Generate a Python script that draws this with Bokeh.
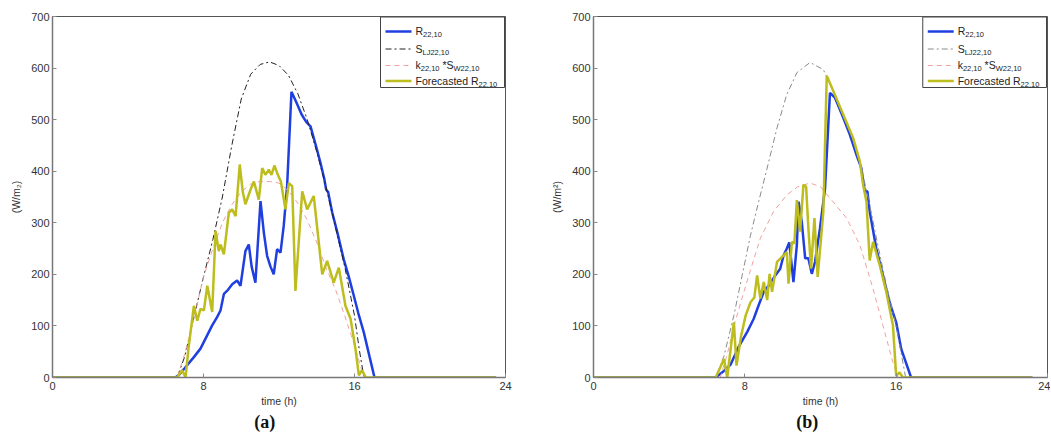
from bokeh.plotting import figure
from bokeh.models import Range1d, FixedTicker, Title
from bokeh.layouts import row
from bokeh.core.properties import value
from bokeh.embed import file_html
from bokeh.resources import INLINE

# ---------------- data ----------------
X_TICKS = [0, 8, 16, 24]
Y_TICKS = [0, 100, 200, 300, 400, 500, 600, 700]

# panel (a)
A_T_SLJ = [0, 6.6, 7.0, 7.5, 8.0, 8.5, 9.0, 9.5, 10.0, 10.5, 11.0, 11.5, 12.0, 12.5, 13.0, 13.5, 14.0, 14.5, 15.0, 15.5, 16.0, 16.25, 16.5, 23.5]
A_SLJ = [0, 0, 40, 118, 195, 268, 350, 450, 540, 588, 607, 612, 605, 586, 550, 500, 438, 368, 290, 212, 120, 55, 0, 0]

A_T_SW = [0, 6.6, 7.0, 7.5, 8.0, 8.5, 9.0, 9.5, 10.0, 10.5, 11.0, 11.5, 12.0, 12.5, 13.0, 13.5, 14.0, 14.5, 15.0, 15.5, 16.0, 16.5, 23.5]
A_SW = [0, 0, 45, 115, 195, 250, 300, 335, 360, 375, 380, 380, 377, 362, 338, 305, 262, 212, 170, 118, 62, 0, 0]

A_T_R = [0, 6.5, 6.7, 7.0, 7.5, 7.84, 8.1, 8.46, 8.72, 8.9, 9.08, 9.3, 9.52, 9.78, 9.96, 10.22, 10.4, 10.55, 10.75, 11.02,
         11.2, 11.37, 11.55, 11.72, 11.9, 12.08, 12.25, 12.43, 12.66, 12.9, 13.2, 13.45, 13.67, 13.95, 14.2, 14.4, 14.5, 14.6,
         14.82, 15.1, 15.43, 15.7, 15.96, 16.2, 16.49, 16.8, 17.06, 23.5]
A_R = [0, 0, 5, 18, 40, 56, 75, 101, 117, 130, 162, 170, 181, 188, 178, 245, 258, 215, 184, 342,
       280, 236, 215, 200, 249, 242, 294, 371, 554, 535, 510, 495, 487, 450, 416, 385, 364, 360,
       320, 280, 229, 195, 159, 125, 88, 40, 0, 0]

A_T_F = [0, 6.6, 6.87, 7.05, 7.2, 7.49, 7.67, 7.84, 8.02, 8.2, 8.46, 8.64, 8.81, 8.9, 9.08, 9.34, 9.52, 9.7, 9.92, 10.08,
         10.22, 10.49, 10.67, 10.93, 11.11, 11.28, 11.46, 11.6, 11.76, 11.94, 12.1, 12.34, 12.52, 12.7, 12.87, 13.23, 13.49,
         13.84, 14.29, 14.55, 14.9, 15.17, 15.52, 15.79, 16.05, 16.23, 16.4, 16.6, 23.5]
A_F = [0, 0, 14, 0, 55, 139, 110, 133, 130, 178, 127, 284, 245, 258, 239, 319, 326, 313, 413, 360,
       336, 364, 380, 345, 406, 393, 403, 393, 411, 393, 380, 326, 377, 371, 168, 361, 326,
       352, 200, 226, 184, 213, 139, 114, 56, 4, 14, 0, 0]

# panel (b)
B_T_SLJ = [0, 6.46, 6.9, 7.42, 7.86, 8.3, 8.73, 9.18, 9.7, 10.22, 10.75, 11.45, 12.15, 12.68, 13.2, 13.72, 14.17, 14.6, 15.04, 15.48, 16.0, 16.25, 16.5, 23.2]
B_SLJ = [0, 0, 42, 120, 198, 276, 341, 406, 484, 549, 591, 611, 597, 556, 510, 462, 405, 335, 255, 180, 100, 50, 0, 0]

B_T_SW = [0, 6.7, 7.07, 7.5, 8.21, 8.82, 9.52, 10.22, 10.8, 11.45, 12.0, 12.5, 13.38, 14.08, 14.78, 15.3, 15.83, 16.1, 23.2]
B_SW = [0, 0, 45, 110, 198, 270, 322, 354, 370, 377, 370, 348, 309, 257, 172, 101, 29, 0, 0]

B_T_R = [0, 6.46, 6.81, 7.25, 7.68, 8.12, 8.47, 8.73, 9.0, 9.3, 9.61, 9.87, 10.05, 10.22, 10.35, 10.57, 10.75, 10.84, 11.01, 11.19,
         11.36, 11.54, 11.71, 11.97, 12.24, 12.5, 12.76, 13.2, 13.55, 13.9, 14.16, 14.34, 14.48, 14.6, 14.95, 15.3, 15.65,
         16.0, 16.27, 16.79, 23.2]
B_R = [0, 0, 10, 25, 60, 88, 114, 140, 166, 180, 198, 211, 237, 250, 262, 185, 257, 341, 302, 231,
       231, 201, 224, 289, 367, 552, 543, 504, 471, 432, 406, 361, 361, 322, 250, 198, 146,
       107, 55, 0, 0]

B_T_F = [0, 6.46, 6.9, 7.07, 7.42, 7.56, 7.8, 8.04, 8.3, 8.5, 8.65, 8.82, 9.0, 9.18, 9.31, 9.44, 9.7, 10.05, 10.22, 10.31,
         10.49, 10.62, 10.75, 10.92, 11.1, 11.24, 11.36, 11.5, 11.68, 11.85, 12.06, 12.15, 12.33, 12.67, 13.2, 13.72, 14.08,
         14.25, 14.43, 14.6, 14.78, 15.13, 15.48, 15.83, 16.0, 16.18, 16.35, 23.2]
B_F = [0, 0, 36, 0, 107, 23, 80, 120, 146, 155, 198, 153, 185, 150, 201, 166, 224, 237, 243, 182,
       263, 260, 344, 283, 374, 370, 289, 211, 309, 195, 283, 322, 585, 556, 510, 465, 419,
       374, 341, 227, 263, 218, 166, 101, 3, 10, 0, 0]

# legend text pieces: m = main size, s = subscript, g = a blank gap
LEGEND = [
    [("R", "m"), ("22,10", "s")],
    [("S", "m"), ("LJ22,10", "s")],
    [("k", "m"), ("22,10", "s"), (" ", "g"), ("*S", "m"), ("W22,10", "s")],
    [("Forecasted", "m"), (" ", "g"), ("R", "m"), ("22,10", "s")],
]

# ---------------- styling ----------------
SANS = "Liberation Sans"
SERIF = "Liberation Serif"
BLUE = "#1f3fe0"
OLIVE = "#bdbd1e"
PINK = "#f2a0a0"
DASHDOT = "6 3 2 3"
DASHED = "5 4"

CHAR_W = {',': .278, 'R': .722, 'S': .667, 'L': .556, 'J': .5, 'W': .944, 'k': .5, '*': .389, ' ': .278,
          'F': .611, 'o': .556, 'r': .333, 'e': .556, 'c': .5, 'a': .556, 's': .5, 't': .278, 'd': .556}


def text_w(s, size):
    return sum(CHAR_W.get(c, 0.556) for c in s) * size


def add_legend(p, fw, fh, sl_color):
    def X(px):
        return px / fw * 24

    def Y(py):
        return 700 - py / fh * 700

    box_l, box_r, box_t, box_b = fw - 125, fw - 1, 0.5, 71
    p.quad(left=[X(box_l)], right=[X(box_r)], top=[Y(box_t)], bottom=[Y(box_b)],
           fill_color="white", line_color="#444", line_width=1)
    styles = [dict(line_color=BLUE, line_width=2.5),
              dict(line_color=sl_color, line_width=1, line_dash=DASHDOT),
              dict(line_color=PINK, line_width=1, line_dash=DASHED),
              dict(line_color=OLIVE, line_width=2.5)]
    rows_y = [14.5, 32, 48.5, 64]
    msize, ssize = 10.5, 7.5
    for entry, ry, st in zip(LEGEND, rows_y, styles):
        p.line(x=[X(box_l + 5), X(box_l + 31)], y=[Y(ry + 0.5), Y(ry + 0.5)], **st)
        xcur = box_l + 35
        for seg, kind in entry:
            if kind == "g":
                xcur += text_w(seg, msize)
                continue
            size = msize if kind == "m" else ssize
            yy = ry if kind == "m" else ry + 3.5
            p.text(x=[X(xcur)], y=[Y(yy)], text=[seg], text_font=value(SANS),
                   text_font_size=f"{size}px", text_baseline="middle", text_align="left",
                   text_color="#222")
            xcur += text_w(seg, size)


FH = 361
LETTER_SIZE = 18


def make_panel(letter, ylabel, fw, bl, br, data, sl_color):
    p = figure(width=fw + bl + br, height=FH + 16 + 56,
               x_range=Range1d(0, 24), y_range=Range1d(0, 700),
               output_backend="svg", toolbar_location=None,
               min_border_left=bl, min_border_right=br, min_border_top=16, min_border_bottom=56,
               background_fill_color="white", border_fill_color="white")
    p.grid.visible = False
    p.outline_line_color = "#555"
    p.outline_line_width = 1
    p.xaxis.ticker = FixedTicker(ticks=X_TICKS)
    p.yaxis.ticker = FixedTicker(ticks=Y_TICKS)
    for ax in (p.xaxis[0], p.yaxis[0]):
        ax.major_tick_in = 4
        ax.major_tick_out = 0
        ax.minor_tick_line_color = None
        ax.axis_line_color = "#777"
        ax.axis_line_width = 1.5
        ax.major_tick_line_color = "#888"
        ax.major_label_text_font = SANS
        ax.major_label_text_font_size = "11px"
        ax.major_label_text_color = "#333"
        ax.axis_label_text_font = SANS
        ax.axis_label_text_font_size = "10.5px"
        ax.axis_label_text_font_style = "normal"
        ax.axis_label_text_color = "#333"
    p.xaxis.axis_label = "time (h)"
    p.yaxis.axis_label = ylabel
    p.xaxis.major_label_standoff = 4
    p.xaxis.axis_label_standoff = 2
    p.yaxis.major_label_standoff = 3
    p.yaxis.axis_label_standoff = 6

    (t_r, r), (t_sl, sl), (t_sw, sw), (t_f, f) = data
    p.line(t_r, r, line_color=BLUE, line_width=2.5)
    p.line(t_sl, sl, line_color=sl_color, line_width=1, line_dash=DASHDOT)
    p.line(t_sw, sw, line_color=PINK, line_width=1, line_dash=DASHED)
    p.line(t_f, f, line_color=OLIVE, line_width=2.5)

    add_legend(p, fw, FH, sl_color)

    letter_w = 1.2 * LETTER_SIZE
    p.add_layout(Title(text=letter, align="left", text_font=SERIF,
                       text_font_size=f"{LETTER_SIZE}px", text_font_style="bold",
                       text_color="#111", offset=fw / 2 - 14 - letter_w / 2, standoff=1), "below")
    return p


pa = make_panel("(a)", "(W/m\u2082)", 453, 52, 43,
                [(A_T_R, A_R), (A_T_SLJ, A_SLJ), (A_T_SW, A_SW), (A_T_F, A_F)], "#222222")
pb = make_panel("(b)", "(W/m\u00b2)", 455, 44, 3,
                [(B_T_R, B_R), (B_T_SLJ, B_SLJ), (B_T_SW, B_SW), (B_T_F, B_F)], "#8a8a8a")

layout = row(pa, pb)
open("out.html", "w").write(file_html(layout, INLINE))
